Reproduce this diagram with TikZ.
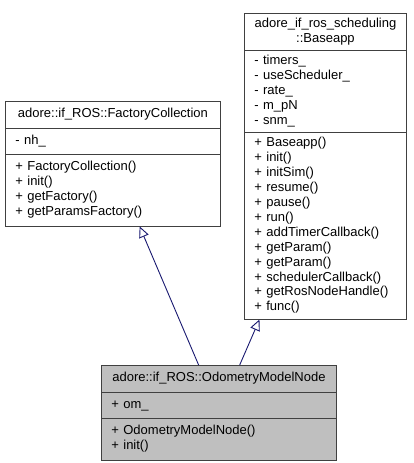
\documentclass[tikz,border=0pt]{standalone}
\usepackage{fontspec}
\setmainfont{Liberation Sans}
\usetikzlibrary{shapes.multipart,arrows.meta}
\definecolor{edgeblue}{HTML}{191970}
\definecolor{boxline}{HTML}{404040}
\definecolor{boxgray}{HTML}{BFBFBF}
\newcommand{\titleline}[1]{\makebox[\linewidth]{\strut#1}}

\begin{document}
\begin{tikzpicture} [x=1bp,y=-1bp]
\tikzstyle{classbox}=[rectangle split, rectangle split parts=3, draw=boxline, line width=0.9bp,
  anchor=north west, inner xsep=10bp, align=left, fill=white,
  font=\fontsize{13bp}{14.9bp}\selectfont]
\tikzstyle{inherit}=[-{Triangle[open,length=11bp,width=10bp]}, draw=edgeblue, line width=0.9bp]
\useasboundingbox (0,0) rectangle (413,463);
\node at(5,101) (Factory) [classbox, text width=195bp, inner ysep=5.4bp]
  {\titleline{adore::if\_ROS::FactoryCollection}
   \nodepart{two}\strut - nh\_\strut
   \nodepart{three}\strut + FactoryCollection()\\ + init()\\ + getFactory()\\ + getParamsFactory()\strut};
\node at(244,13) (Baseapp) [classbox, text width=142bp, inner ysep=3.3bp]
  {\titleline{adore\_if\_ros\_scheduling}\\ \titleline{::Baseapp}
   \nodepart{two}\strut - timers\_\\ - useScheduler\_\\ - rate\_\\ - m\_pN\\ - snm\_\strut
   \nodepart{three}\strut + Baseapp()\\ + init()\\ + initSim()\\ + resume()\\ + pause()\\ + run()\\
   + addTimerCallback()\\ + getParam()\\ + getParam()\\ + schedulerCallback()\\ + getRosNodeHandle()\\ + func()\strut};
\node at(101,365) (Odom) [classbox, fill=boxgray, text width=215bp, inner ysep=5.4bp]
  {\titleline{adore::if\_ROS::OdometryModelNode}
   \nodepart{two}\strut + om\_\strut
   \nodepart{three}\strut + OdometryModelNode()\\ + init()\strut}
	edge [inherit] (Factory)
	edge [inherit] (Baseapp);
\end{tikzpicture}
\end{document}
